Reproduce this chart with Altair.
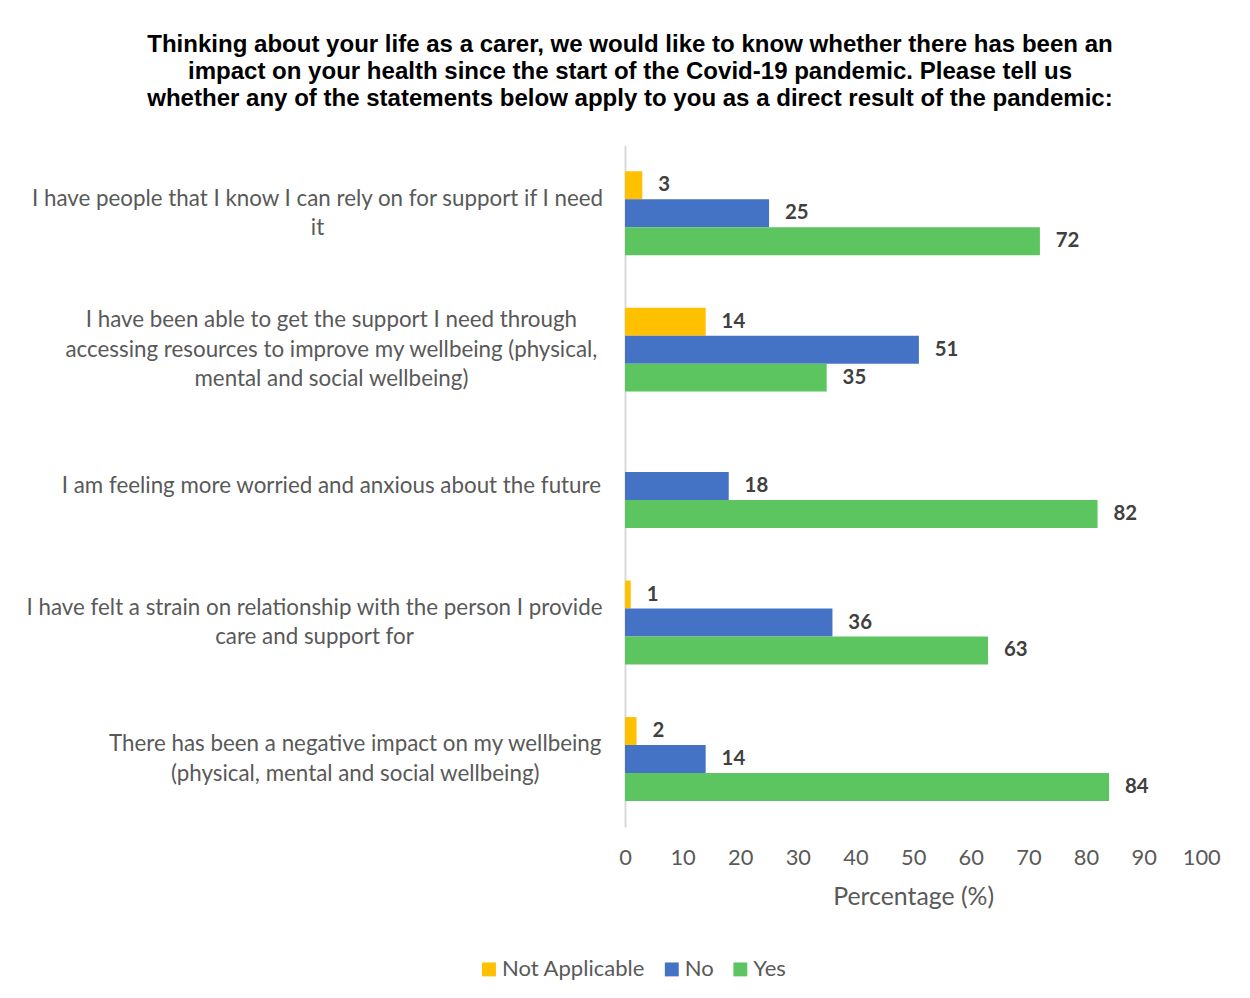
import altair as alt
import pandas as pd

categories = [
    "I have people that I know I can rely on for support if I need|it",
    "I have been able to get the support I need through|accessing resources to improve my wellbeing  (physical,|mental and social wellbeing)",
    "I am feeling more worried and anxious about the future",
    "I have felt a strain on relationship with the person I provide|care and support for",
    "There has been a negative impact on my wellbeing|(physical, mental and social wellbeing)",
]
series = ["Not Applicable", "No", "Yes"]
not_applicable = [3, 14, None, 1, 2]
no = [25, 51, 18, 36, 14]
yes = [72, 35, 82, 63, 84]
colors = ["#FFC000", "#4472C4", "#5CC55F"]
x_ticks = [0, 10, 20, 30, 40, 50, 60, 70, 80, 90, 100]
title_lines = [
    "Thinking about your life as a carer, we would like to know whether there has been an",
    "impact on your health since the start of the Covid-19 pandemic. Please tell us",
    "whether any of the statements below apply to you as a direct result of the pandemic:",
]

rows = []
for i, cat in enumerate(categories):
    for s, vals in zip(series, [not_applicable, no, yes]):
        if vals[i] is not None:
            rows.append({"category": cat, "series": s, "value": vals[i]})
df = pd.DataFrame(rows)

FONT = "Lato"
LINE_H = 29.5

# styling: label block placement (centre of each label block, lines centred within it)
label_pad = [310, 296, 296, 313, 272]


def per_label(values, default):
    conds = []
    for cat, v in zip(categories, values):
        conds.append({"test": "datum.value === " + repr(cat), "value": v})
    return {"condition": conds, "value": default}


offsets = [-(len(c.split("|")) - 1) * LINE_H / 2 for c in categories]

base = alt.Chart(df).encode(
    y=alt.Y(
        "category:N",
        sort=categories,
        scale=alt.Scale(paddingInner=0.385, paddingOuter=0.19),
        axis=alt.Axis(
            title=None,
            labelExpr="split(datum.label, '|')",
            labelAlign="center",
            labelBaseline="middle",
            labelPadding=per_label(label_pad, 300),
            labelOffset=per_label(offsets, 0),
            labelLimit=0,
            ticks=False,
            tickSize=0,
            domainColor="#d9d9d9",
            domainWidth=2,
            labelFont=FONT,
            labelFontSize=22.5,
            labelColor="#595959",
            labelLineHeight=LINE_H,
        ),
    ),
    yOffset=alt.YOffset("series:N", sort=series, scale=alt.Scale(paddingInner=0, paddingOuter=0)),
    x=alt.X(
        "value:Q",
        scale=alt.Scale(domain=[0, 100]),
        axis=alt.Axis(
            values=x_ticks,
            title="Percentage (%)",
            grid=False,
            domain=False,
            ticks=False,
            tickSize=0,
            labelFlush=False,
            labelOverlap=False,
            labelPadding=21,
            labelFont=FONT,
            labelFontSize=22,
            labelColor="#595959",
            titleFont=FONT,
            titleFontSize=25,
            titleFontWeight="normal",
            titleColor="#595959",
            titlePadding=16,
        ),
    ),
)

bars = base.mark_bar().encode(
    color=alt.Color(
        "series:N",
        sort=series,
        scale=alt.Scale(domain=series, range=colors),
        legend=alt.Legend(
            title=None,
            orient="none",
            direction="horizontal",
            legendX=-148,
            legendY=818,
            symbolType="square",
            symbolSize=196,
            symbolStrokeWidth=0,
            labelFont=FONT,
            labelFontSize=22.2,
            labelColor="#595959",
            labelOffset=2,
            columnPadding=15,
        ),
    )
)

labels = base.mark_text(
    align="left", baseline="middle", dx=16, fontWeight="bold", fontSize=20.5, color="#404040", font=FONT
).encode(text="value:Q")

chart = (
    alt.layer(bars, labels)
    .properties(
        width=580,
        height=686,
        background="white",
        autosize=alt.AutoSizeParams(type="none"),
        padding={"left": 621, "top": 135, "right": 41, "bottom": 169},
        title=alt.Title(
            title_lines,
            font="Liberation Sans",
            fontSize=24.2,
            fontWeight="bold",
            color="#000000",
            anchor="middle",
            frame="group",
            dx=-285,
            offset=34,
            lineHeight=27.5,
        ),
    )
    .configure_view(stroke=None, strokeWidth=0)
)

chart.save("out.html", embed_options={"renderer": "svg", "actions": False})
